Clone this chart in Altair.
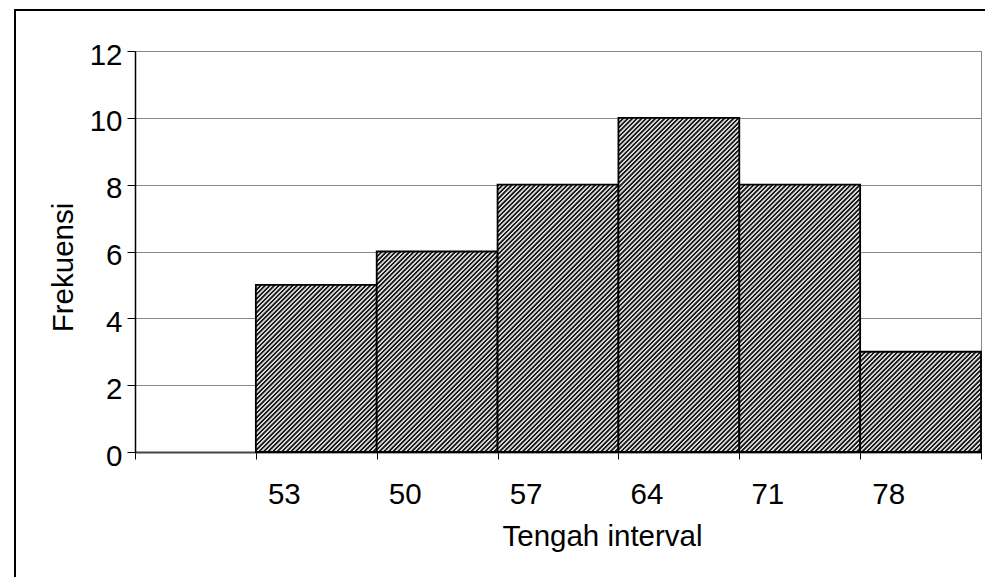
import altair as alt
import pandas as pd

# ---- data ----
categories = ["53", "50", "57", "64", "71", "78"]
frequencies = [5, 6, 8, 10, 8, 3]
slot_labels = [""] + categories + [""]
y_ticks = [0, 2, 4, 6, 8, 10, 12]

# ---- layout ----
W_PLOT, H_PLOT = 846, 401
N_SLOTS, Y_MAX = 7, 12
FONT = "Liberation Sans"
FS = 29.5
DARK, LIGHT = "#1a1a1a", "#d8d8d8"

df = pd.DataFrame({
    "label": categories,
    "freq": frequencies,
    "start": list(range(1, len(categories) + 1)),
    "end": list(range(2, len(categories) + 2)),
})


def hatch(value, period=4.6):
    """Diagonal '/' hatch as a gradient with hard stops, 45 degrees in pixels."""
    w = W_PLOT / N_SLOTS
    h = value / Y_MAX * H_PLOT
    k = (w + h) / (w * w + h * h)
    n = max(1, round((w + h) / period))
    stops = []
    for j in range(n):
        b = j / n
        s = 1 / n
        stops += [
            alt.GradientStop(color=DARK, offset=round(b, 6)),
            alt.GradientStop(color=DARK, offset=round(b + 0.36 * s, 6)),
            alt.GradientStop(color=LIGHT, offset=round(b + 0.50 * s, 6)),
            alt.GradientStop(color=LIGHT, offset=round(b + 0.85 * s, 6)),
        ]
    stops.append(alt.GradientStop(color=DARK, offset=1.0))
    return alt.LinearGradient(gradient="linear", stops=stops,
                              x1=0, y1=0, x2=round(k * w, 6), y2=round(k * h, 6))


label_expr = "[" + ",".join("'%s'" % s for s in slot_labels) + "][datum.value]"

x_enc = alt.X(
    "start:Q",
    scale=alt.Scale(domain=[0, N_SLOTS], nice=False, zero=False),
    axis=alt.Axis(
        values=list(range(N_SLOTS + 1)), labelExpr=label_expr,
        grid=False, tickSize=7, tickColor="black", tickWidth=1,
        domainColor="#444444", domainWidth=2,
        labelFont=FONT, labelFontSize=FS, labelColor="black",
        labelPadding=21, labelOffset=28, labelFlush=False, labelOverlap=False,
        labelBound=False,
        title="Tengah interval", titleFont=FONT, titleFontSize=FS,
        titleFontWeight="normal", titleColor="black",
        titleX=467, titleY=93, titleAlign="center", titleBaseline="alphabetic",
    ),
)
y_enc = alt.Y(
    "freq:Q",
    scale=alt.Scale(domain=[0, Y_MAX], nice=False),
    axis=alt.Axis(
        values=y_ticks, grid=True, gridColor="#888888", gridWidth=1,
        tickSize=8, tickColor="black", tickWidth=1,
        domainColor="black", domainWidth=1.5,
        labelFont=FONT, labelFontSize=FS, labelColor="black",
        labelPadding=5, labelOffset=4,
        title="Frekuensi", titleFont=FONT, titleFontSize=FS,
        titleFontWeight="normal", titleColor="black",
        titleX=-63, titleY=216, titleAlign="center", titleBaseline="alphabetic",
    ),
)

layers = []
for i, v in enumerate(frequencies):
    layers.append(
        alt.Chart(df)
        .transform_filter(alt.datum.start == i + 1)
        .mark_rect(fill=hatch(v), stroke="black", strokeWidth=1.8)
        .encode(x=x_enc, x2="end:Q", y=y_enc, y2=alt.datum(0))
    )

frame = (
    alt.Chart(pd.DataFrame({"f": [0]}))
    .mark_rect(filled=False, stroke="black", strokeWidth=2, clip=False)
    .encode(x=alt.value(-120), x2=alt.value(880), y=alt.value(-41), y2=alt.value(600))
)

chart = (
    alt.layer(*layers, frame)
    .properties(
        width=W_PLOT, height=H_PLOT,
        autosize=alt.AutoSizeParams(type="none"),
        padding={"left": 135, "top": 51, "right": 4, "bottom": 125},
        background="white",
    )
    .configure_view(stroke="#888888", strokeWidth=1)
)

chart.save("out.html", embed_options={"renderer": "svg", "actions": False})
